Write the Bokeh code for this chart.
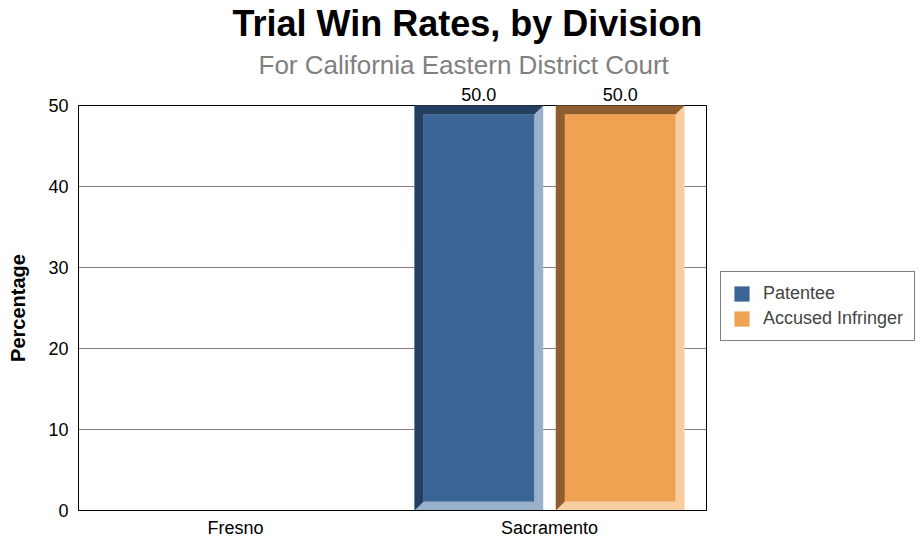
from bokeh.plotting import figure
from bokeh.models import (Title, Legend, LegendItem, FixedTicker, Range1d, LinearAxis)
from bokeh.embed import file_html
from bokeh.resources import INLINE

divisions = ["Fresno", "Sacramento"]
patentee = [0.0, 50.0]
accused = [0.0, 50.0]
series_names = ["Patentee", "Accused Infringer"]
yticks = [0, 10, 20, 30, 40, 50]

# colours: (dark bevel, main, light bevel)
palette = {
    "Patentee": ("#243F60", "#3A6594", "#9AB1CC"),
    "Accused Infringer": ("#8F5E30", "#EFA252", "#F8CEA0"),
}

FONT = "Liberation Sans"
BAR_W = 0.41
OFFSETS = [-0.225, 0.225]
BX = 0.029   # bevel width in category units
BY = 1.1     # bevel height in y units
Y_MAX = max(yticks)

p = figure(frame_width=628, frame_height=405, output_backend="svg",
           toolbar_location=None,
           x_range=Range1d(0, len(divisions)), y_range=Range1d(0, Y_MAX),
           min_border_left=78, min_border_right=216, min_border_bottom=31,
           min_border_top=100, title=None)
xax = p.below[0]
yax = p.left[0]

legend_items = []
label_x, label_txt = [], []
for si, (name, vals) in enumerate(zip(series_names, [patentee, accused])):
    dark, mid, light = palette[name]
    L, R, T, B = [], [], [], []
    dark_xs, dark_ys = [], []
    for ci, v in enumerate(vals):
        if v <= 0:
            continue
        c = ci + 0.5 + OFFSETS[si]
        l, r = c - BAR_W / 2, c + BAR_W / 2
        t, b = v, 0.0
        L.append(l); R.append(r); T.append(t); B.append(b)
        dark_xs.append([l, l, r, r - BX, l + BX, l + BX])
        dark_ys.append([b, t, t, t - BY, t - BY, b + BY])
        label_x.append(c); label_txt.append(f"{v:.1f}")
    p.quad(left=L, right=R, top=T, bottom=B, fill_color=light, line_color=None)
    p.patches(xs=dark_xs, ys=dark_ys, fill_color=dark, line_color=None)
    p.quad(left=[x + BX for x in L], right=[x - BX for x in R],
           top=[x - BY for x in T], bottom=[x + BY for x in B],
           fill_color=mid, line_color=None)
    # legend swatch renderer (kept outside the visible ranges)
    sw = p.quad(left=[-10], right=[-9], top=[-10], bottom=[-11],
                fill_color=mid, line_color=None)
    legend_items.append(LegendItem(label=name, renderers=[sw]))

# value labels above the bars (bars reach the top of the value axis)
value_axis = LinearAxis(ticker=FixedTicker(ticks=label_x),
                        major_label_overrides=dict(zip(label_x, label_txt)),
                        axis_line_color=None, major_tick_out=0, major_tick_in=0,
                        minor_tick_out=0, minor_tick_in=0, major_label_standoff=5,
                        major_label_text_font=FONT, major_label_text_font_size="18px",
                        major_label_text_color="#000000")
p.add_layout(value_axis, "above")

sub = Title(text="For California Eastern District Court", align="left", offset=180,
            text_font=FONT, text_font_size="26px", text_font_style="normal",
            text_color="#808080", standoff=9)
p.add_layout(sub, "above")
main = Title(text="Trial Win Rates, by Division", align="left", offset=154,
             text_font=FONT, text_font_size="36px", text_font_style="bold",
             text_color="#000000", standoff=0)
p.add_layout(main, "above")

legend = Legend(items=legend_items, location=(14, 169), orientation="vertical",
                label_text_font=FONT, label_text_font_size="18px",
                glyph_width=19, glyph_height=19, label_height=20, spacing=4,
                padding=11, margin=0, label_standoff=12,
                border_line_color="#000000", border_line_width=1,
                background_fill_color="#FFFFFF", background_fill_alpha=1)
p.add_layout(legend, "right")

xax.ticker = FixedTicker(ticks=[i + 0.5 for i in range(len(divisions))])
xax.major_label_overrides = {i + 0.5: d for i, d in enumerate(divisions)}
yax.ticker = FixedTicker(ticks=yticks)

for ax in [xax, yax]:
    ax.major_tick_out = 0
    ax.major_tick_in = 0
    ax.minor_tick_out = 0
    ax.minor_tick_in = 0
    ax.axis_line_color = "#000000"
    ax.major_label_text_font = FONT
    ax.major_label_text_font_size = "18px"
    ax.major_label_text_color = "#000000"
xax.major_label_standoff = 7
yax.major_label_standoff = 10
yax.axis_label = "Percentage"
yax.axis_label_text_font = FONT
yax.axis_label_text_font_size = "20px"
yax.axis_label_text_font_style = "bold"
yax.axis_label_text_color = "#000000"
yax.axis_label_standoff = 16

p.xgrid.grid_line_color = None
p.ygrid.grid_line_color = "#808080"
p.ygrid.grid_line_width = 1
p.ygrid.ticker = FixedTicker(ticks=yticks)
p.outline_line_color = "#000000"
p.outline_line_width = 1
p.background_fill_color = "#FFFFFF"
p.border_fill_color = "#FFFFFF"

open("out.html", "w").write(file_html(p, INLINE))
